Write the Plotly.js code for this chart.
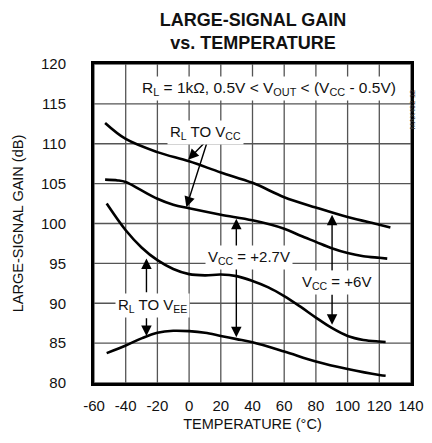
<!DOCTYPE html>
<html>
<head>
<meta charset="utf-8">
<script src="https://cdn.plot.ly/plotly-3.0.1.min.js"></script>
<style>html,body{margin:0;padding:0;background:#fff;}#chart{width:432px;height:443px;}</style>
</head>
<body>
<div id="chart"></div>
<script>
// Curve data
var tempVcc6RlVcc = [-53, -40, -20, 0, 20, 40, 60, 80, 100, 120, 127];
var gainVcc6RlVcc = [112.6, 110.6, 108.95, 107.8, 106.4, 105.1, 103.3, 102.0, 100.8, 99.85, 99.5];

var tempVcc27RlVcc = [-53, -45, -40, -30, -20, -10, 0, 20, 40, 60, 70, 80, 90, 100, 110, 120, 125];
var gainVcc27RlVcc = [105.5, 105.4, 105.2, 104.15, 103.1, 102.35, 101.9, 101.1, 100.4, 99.35, 98.5, 97.7, 96.9, 96.3, 95.9, 95.7, 95.6];

var tempVcc6RlVee = [-52, -40, -30, -20, -10, 0, 10, 20, 30, 40, 50, 60, 70, 80, 90, 100, 110, 120, 124];
var gainVcc6RlVee = [102.5, 99.15, 97.0, 95.4, 94.3, 93.65, 93.5, 93.6, 93.4, 92.8, 92.0, 90.9, 89.6, 88.2, 86.9, 85.9, 85.4, 85.2, 85.15];

var tempVcc27RlVee = [-52, -40, -30, -20, -10, 0, 10, 20, 30, 40, 60, 80, 100, 120, 124];
var gainVcc27RlVee = [83.75, 84.7, 85.6, 86.3, 86.55, 86.5, 86.3, 85.9, 85.5, 85.1, 83.95, 82.7, 81.75, 81.0, 80.9];

var xTickVals = [-60, -40, -20, 0, 20, 40, 60, 80, 100, 120, 140];
var yTickVals = [80, 85, 90, 95, 100, 105, 110, 115, 120];

var FONT = 'Liberation Sans, Arial, sans-serif';
var GRID = '#555';
var lineStyle = {color: '#000', width: 2.6, shape: 'spline', smoothing: 1};

function curve(xs, ys) {
  return {x: xs, y: ys, type: 'scatter', mode: 'lines', line: lineStyle, hoverinfo: 'skip', showlegend: false};
}

// grid lines built from the tick arrays, drawn as line traces under the curves
var xMin = xTickVals[0], xMax = xTickVals[xTickVals.length - 1];
var yMin = yTickVals[0], yMax = yTickVals[yTickVals.length - 1];
var gvx = [], gvy = [], ghx = [], ghy = [];
xTickVals.forEach(function (v) { gvx.push(v, v, null); gvy.push(yMin, yMax, null); });
yTickVals.forEach(function (v) { ghx.push(xMin, xMax, null); ghy.push(v, v, null); });
var gridStyle = {color: GRID, width: 1.3};

var data = [
  {x: gvx, y: gvy, type: 'scatter', mode: 'lines', line: gridStyle, hoverinfo: 'skip', showlegend: false, connectgaps: false},
  {x: ghx, y: ghy, type: 'scatter', mode: 'lines', line: gridStyle, hoverinfo: 'skip', showlegend: false, connectgaps: false},
  curve(tempVcc6RlVcc, gainVcc6RlVcc),
  curve(tempVcc27RlVcc, gainVcc27RlVcc),
  curve(tempVcc6RlVee, gainVcc6RlVee),
  curve(tempVcc27RlVee, gainVcc27RlVee)
];

function arrow(x, y, ax, ay) {
  return {x: x, y: y, ax: ax, ay: ay, xref: 'x', yref: 'y', axref: 'x', ayref: 'y',
    text: '', showarrow: true, arrowhead: 2, arrowsize: 1.5, arrowwidth: 1.4,
    arrowcolor: '#000', standoff: 0, startstandoff: 0};
}
function label(x, y, txt, size) {
  return {x: x, y: y, xref: 'x', yref: 'y', text: txt, showarrow: false,
    bgcolor: '#fff', borderpad: 2, font: {family: FONT, size: size || 15, color: '#111'}};
}

var annotations = [
  arrow(-0.6, 108.0, 12, 110.6),
  arrow(-1.7, 102.05, 12, 110.6),
  arrow(29.8, 100.6, 29.8, 97.0),
  arrow(29.8, 85.75, 29.8, 94.6),
  arrow(90.2, 101.1, 90.2, 93.9),
  arrow(90.2, 87.3, 90.2, 91.3),
  arrow(-26.9, 95.6, -26.9, 91.2),
  arrow(-26.9, 85.9, -26.9, 88.3),
  label(50.5, 116.9, 'R<sub>L</sub> = 1kΩ, 0.5V &lt; V<sub>OUT</sub> &lt; (V<sub>CC</sub> - 0.5V)', 15.5),
  label(10.1, 111.4, 'R<sub>L</sub> TO V<sub>CC</sub>'),
  label(37.5, 95.8, 'V<sub>CC</sub> = +2.7V'),
  label(93.2, 92.6, 'V<sub>CC</sub> = +6V'),
  label(-23.3, 89.75, 'R<sub>L</sub> TO V<sub>EE</sub>'),
  {x: 1.028, y: 0.928, xref: 'paper', yref: 'paper', text: 'MAX492-12', textangle: -90,
    showarrow: false, font: {family: FONT, size: 7.5, color: '#333'}}
];

var layout = {
  width: 432, height: 443,
  margin: {l: 94, r: 21, t: 64, b: 60, pad: 0},
  paper_bgcolor: '#fff', plot_bgcolor: '#fff',
  title: {
    text: '<b>LARGE-SIGNAL GAIN<br>vs. TEMPERATURE</b>',
    x: 253 / 432, xref: 'container', xanchor: 'center',
    y: 1 - 26 / 443, yref: 'container', yanchor: 'top',
    font: {family: 'Liberation Sans Narrow, Arial Narrow, Liberation Sans, sans-serif', size: 18, color: '#111'}
  },
  xaxis: {
    range: [-60, 140], tickvals: xTickVals, ticktext: xTickVals.map(String),
    showgrid: false, zeroline: false,
    showline: true, linecolor: '#000', linewidth: 3, mirror: true, layer: 'above traces',
    ticks: 'outside', ticklen: 7, tickcolor: 'rgba(0,0,0,0)',
    tickfont: {family: FONT, size: 15, color: '#111'},
    title: {text: 'TEMPERATURE (°C)', standoff: 6, font: {family: FONT, size: 14.5, color: '#111'}},
    fixedrange: true
  },
  yaxis: {
    range: [80, 120], tickvals: yTickVals, ticktext: yTickVals.map(String),
    showgrid: false, zeroline: false,
    showline: true, linecolor: '#000', linewidth: 3, mirror: true, layer: 'above traces',
    ticks: 'outside', ticklen: 22, tickcolor: 'rgba(0,0,0,0)',
    tickfont: {family: FONT, size: 15, color: '#111'},
    title: {text: 'LARGE-SIGNAL GAIN (dB)', standoff: 14, font: {family: FONT, size: 14.5, color: '#111'}},
    fixedrange: true
  },
  annotations: annotations,
  showlegend: false
};

Plotly.newPlot('chart', data, layout, {staticPlot: true, displayModeBar: false});
</script>
</body>
</html>
